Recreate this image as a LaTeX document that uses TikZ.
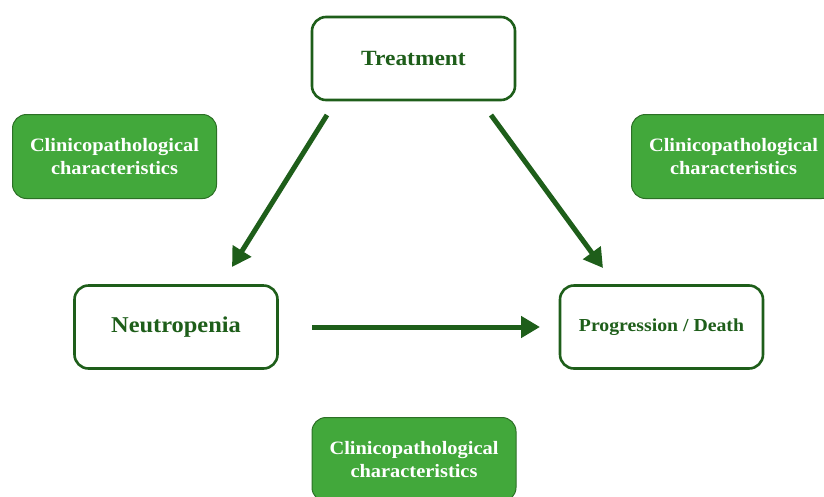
\documentclass[tikz,border=0pt]{standalone}
\usepackage{fontspec}
\setmainfont[FakeStretch=1.08]{Liberation Serif}
\usetikzlibrary{arrows.meta}
\definecolor{dgreen}{HTML}{1E5E1A}
\definecolor{gfill}{HTML}{42A83B}
\definecolor{gedge}{HTML}{2C7026}
\begin{document}
\begin{tikzpicture}[x=1pt,y=-1pt,
  whitebox/.style={draw=dgreen, line width=2.6pt, fill=white, rounded corners=14pt,
    minimum width=203pt, minimum height=83pt, font=\bfseries, text=dgreen},
  greenbox/.style={draw=gedge, line width=1pt, fill=gfill, rounded corners=14pt,
    minimum width=204pt, minimum height=84pt, text=white, font=\bfseries\fontsize{18.9}{23}\selectfont, align=center},
  conn/.style={draw=dgreen, line width=5pt, -{Triangle[length=19pt,width=21pt]}}]
\useasboundingbox (0,0) rectangle (824,496);
\node[whitebox, font=\bfseries\fontsize{21.7}{25}\selectfont] (t) at (413.5,58.5) {Treatment};
\node[whitebox, font=\bfseries\fontsize{22.6}{26}\selectfont] (n) at (176,327) {Neutropenia};
\node[whitebox, font=\bfseries\fontsize{18.3}{22}\selectfont] (p) at (661.5,327) {Progression / Death};
\node[greenbox] (g1) at (114.5,156.5) {Clinicopathological\\characteristics};
\node[greenbox] (g2) at (733.5,156.5) {Clinicopathological\\characteristics};
\node[greenbox] (g3) at (414,459.5) {Clinicopathological\\characteristics};
\coordinate (a1s) at (327,115);
\coordinate (a1e) at (232,267);
\coordinate (a2s) at (491,115);
\coordinate (a2e) at (603,268);
\coordinate (a3s) at (312,327);
\coordinate (a3e) at (540,327);
\draw[conn] (a1s) -- (a1e);
\draw[conn] (a2s) -- (a2e);
\draw[conn] (a3s) -- (a3e);
\end{tikzpicture}
\end{document}
